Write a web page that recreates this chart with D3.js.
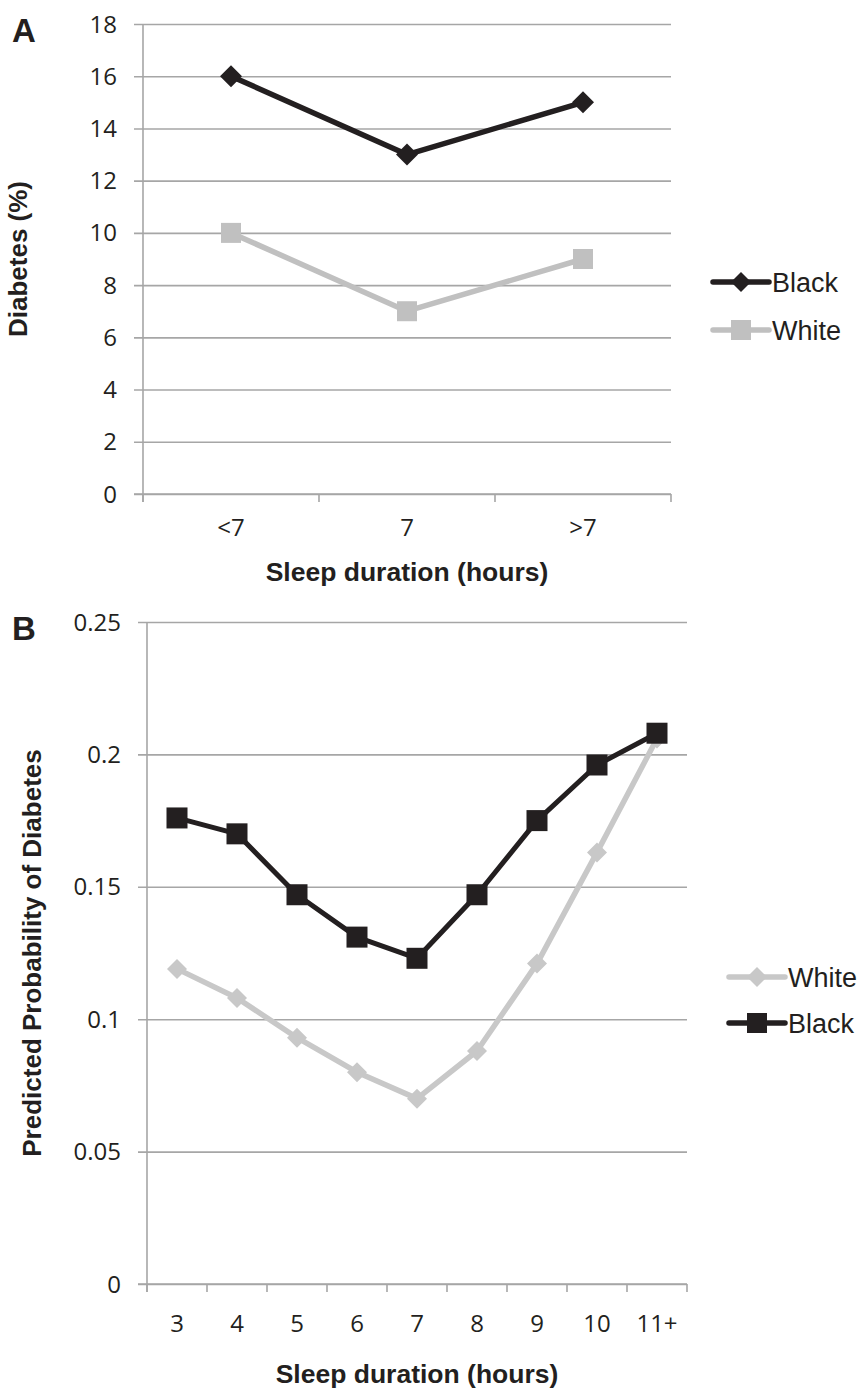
<!DOCTYPE html>
<html>
<head>
<meta charset="utf-8">
<script src="https://cdn.jsdelivr.net/npm/d3@7"></script>
<style>
  body { margin: 0; background: #fff; }
  svg { display: block; }
</style>
</head>
<body>
<script>
// panel A
const catsA = ['<7', '7', '>7'];
const blackA = [16, 13, 15];
const whiteA = [10, 7, 9];
const yTicksA = [0, 2, 4, 6, 8, 10, 12, 14, 16, 18];

// panel B
const catsB = ['3', '4', '5', '6', '7', '8', '9', '10', '11+'];
const blackB = [0.176, 0.170, 0.147, 0.131, 0.123, 0.147, 0.175, 0.196, 0.208];
const whiteB = [0.119, 0.108, 0.093, 0.080, 0.070, 0.088, 0.121, 0.163, 0.206];
const yTicksB = [0, 0.05, 0.1, 0.15, 0.2, 0.25];

const width = 859;
const height = 1388;
const ink = '#231f20';
const grid = '#a6a6a6';
const tickFont = '"Open Sans", sans-serif';
const boldFont = '"Liberation Sans", Arial, sans-serif';

let svg = d3.select('body')
  .append('svg')
  .attr('width', width)
  .attr('height', height);

function marker(g, shape, x, y, size, color) {
  if (shape === 'diamond') {
    g.append('path')
      .attr('d', `M${x},${y - size}L${x + size},${y}L${x},${y + size}L${x - size},${y}Z`)
      .attr('fill', color);
  } else {
    g.append('rect')
      .attr('x', x - size).attr('y', y - size)
      .attr('width', size * 2).attr('height', size * 2)
      .attr('fill', color);
  }
}

function drawPanel(p) {
  const g = svg.append('g');
  const x = d3.scaleBand().domain(p.cats).range([p.left, p.right]);
  const y = d3.scaleLinear().domain([0, d3.max(p.yTicks)]).range([p.bottom, p.top]);

  // gridlines
  g.append('g').attr('transform', `translate(${p.left},0)`)
    .call(d3.axisLeft(y).tickValues(p.yTicks).tickSize(p.left - p.right).tickFormat(''))
    .call(a => a.select('.domain').remove())
    .call(a => a.selectAll('line').attr('stroke', grid).attr('stroke-width', 1.6)
      .attr('x1', -9));

  // y tick labels
  g.append('g').selectAll('text')
    .data(p.yTicks)
    .enter().append('text')
    .attr('x', p.left - 26)
    .attr('y', d => y(d) + 8.5)
    .attr('text-anchor', 'end')
    .style('font-family', tickFont)
    .style('font-size', '24px')
    .style('fill', ink)
    .text(d => String(d));

  // y axis line
  g.append('line')
    .attr('x1', p.left).attr('x2', p.left)
    .attr('y1', p.top).attr('y2', p.bottom + 8)
    .attr('stroke', grid).attr('stroke-width', 1.6);

  // x axis
  const xAxis = g.append('g').attr('transform', `translate(0,${p.bottom})`);
  xAxis.append('line')
    .attr('x1', p.left - 9).attr('x2', p.right)
    .attr('stroke', grid).attr('stroke-width', 1.6);
  xAxis.selectAll('.tk')
    .data(p.cats.concat(['end']))
    .enter().append('line')
    .attr('class', 'tk')
    .attr('x1', (d, i) => p.left + i * x.step())
    .attr('x2', (d, i) => p.left + i * x.step())
    .attr('y1', 0).attr('y2', 8)
    .attr('stroke', grid).attr('stroke-width', 1.6);
  xAxis.selectAll('text')
    .data(p.cats)
    .enter().append('text')
    .attr('x', d => x(d) + x.bandwidth() / 2)
    .attr('y', p.xLabelY)
    .attr('text-anchor', 'middle')
    .style('font-family', tickFont)
    .style('font-size', '24px')
    .style('fill', ink)
    .text(d => d);

  // titles
  g.append('text')
    .attr('x', (p.left + p.right) / 2)
    .attr('y', p.bottom + p.xTitleY)
    .attr('text-anchor', 'middle')
    .style('font-family', boldFont).style('font-weight', 'bold')
    .style('font-size', '26.5px').style('fill', ink)
    .text('Sleep duration (hours)');
  g.append('text')
    .attr('transform', `translate(${p.yTitleX},${(p.top + p.bottom) / 2}) rotate(-90)`)
    .attr('text-anchor', 'middle')
    .style('font-family', boldFont).style('font-weight', 'bold')
    .style('font-size', '26px').style('fill', ink)
    .text(p.yTitle);
  g.append('text')
    .attr('x', 12).attr('y', p.top + 18)
    .style('font-family', boldFont).style('font-weight', 'bold')
    .style('font-size', '33px').style('fill', ink)
    .text(p.letter);

  const line = d3.line().x((d, i) => x(p.cats[i]) + x.bandwidth() / 2).y(d => y(d));

  // series (first in list drawn first)
  p.series.forEach(s => {
    g.append('path')
      .datum(s.values)
      .attr('d', line)
      .attr('fill', 'none')
      .attr('stroke', s.color)
      .attr('stroke-width', s.lw)
      .attr('stroke-linejoin', 'round');
    s.values.forEach((v, i) => marker(g, s.shape, x(p.cats[i]) + x.bandwidth() / 2, y(v), s.size, s.color));
  });

  // legend
  p.legend.forEach((s, i) => {
    const ly = p.legendY + i * p.legendGap;
    g.append('line')
      .attr('x1', p.legendX).attr('x2', p.legendX + 56)
      .attr('y1', ly).attr('y2', ly)
      .attr('stroke', s.color).attr('stroke-width', 5.5)
      .attr('stroke-linecap', 'round');
    marker(g, s.shape, p.legendX + 28, ly, 10, s.color);
    g.append('text')
      .attr('x', p.legendX + 59).attr('y', ly + 9.5)
      .style('font-family', boldFont)
      .style('font-size', '27px').style('fill', ink)
      .text(s.name);
  });
}

const blackSeriesA = { name: 'Black', values: blackA, color: ink, shape: 'diamond', size: 11, lw: 5.5 };
const whiteSeriesA = { name: 'White', values: whiteA, color: '#c0c0c0', shape: 'square', size: 10, lw: 5.5 };
drawPanel({
  letter: 'A', cats: catsA, yTicks: yTicksA,
  left: 143, right: 671, top: 24, bottom: 494,
  xLabelY: 42, xTitleY: 87, yTitleX: 27,
  yTitle: 'Diabetes (%)',
  series: [whiteSeriesA, blackSeriesA],
  legend: [blackSeriesA, whiteSeriesA],
  legendX: 713, legendY: 282, legendGap: 48
});

const blackSeriesB = { name: 'Black', values: blackB, color: ink, shape: 'square', size: 10.5, lw: 5 };
const whiteSeriesB = { name: 'White', values: whiteB, color: '#c8c8c8', shape: 'diamond', size: 10, lw: 5.5 };
drawPanel({
  letter: 'B', cats: catsB, yTicks: yTicksB,
  left: 147, right: 687, top: 622, bottom: 1284,
  xLabelY: 48, xTitleY: 99, yTitleX: 41,
  yTitle: 'Predicted Probability of Diabetes',
  series: [whiteSeriesB, blackSeriesB],
  legend: [whiteSeriesB, blackSeriesB],
  legendX: 729, legendY: 977, legendGap: 46
});
</script>
</body>
</html>
